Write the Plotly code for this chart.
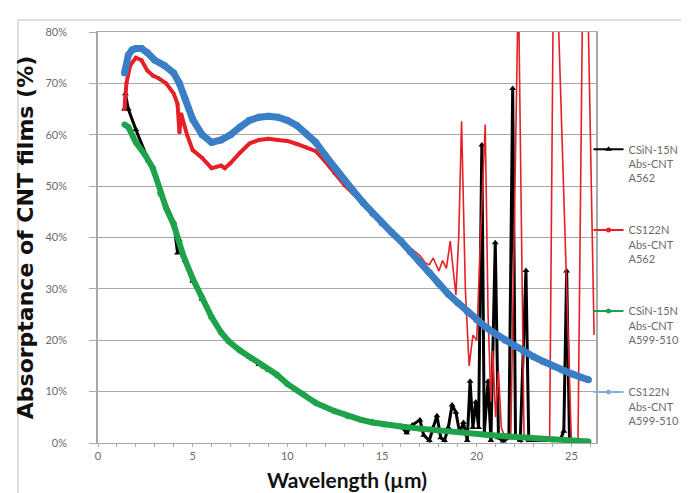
import plotly.graph_objects as go

# ---------------- data (wavelength in µm, absorptance in %) ----------------
black_x = [1.4, 1.45, 1.6, 2.0, 2.66, 3.3, 4.0, 4.2, 4.3, 4.6, 5.0, 5.5, 6.0, 6.5, 7.0, 7.5, 8.0,
           8.5, 9.0, 9.5, 10.0, 10.5, 11.0, 11.5, 12.0, 12.5, 13.0, 13.5, 14.0, 14.5, 15.0, 15.5,
           16.0, 16.3, 16.6, 17.0, 17.2, 17.5, 17.7, 17.9, 18.1, 18.3, 18.5, 18.7, 18.9, 19.1,
           19.3, 19.5, 19.65, 19.8, 19.95, 20.1, 20.27, 20.4, 20.6, 20.75, 20.98, 21.15, 21.4,
           21.7, 21.9, 22.05, 22.3, 22.6, 22.75, 23.5, 24.4, 24.6, 24.75, 24.9, 25.5, 25.9]
black_y = [65, 68, 65, 61, 55, 49, 43, 37, 39.5, 35.5, 31.5, 28, 24.5, 21.8, 19.6, 18, 16.7,
           15.3, 14.2, 13, 11.6, 10.3, 9.2, 8.0, 7.1, 6.3, 5.6, 5.0, 4.5, 4.2, 3.8, 3.5,
           3.2, 2.0, 3.5, 4.5, 1.5, 0.5, 3.0, 5.3, 1.0, 0.5, 3.0, 7.4, 6.0, 2.0,
           4.0, 0.5, 12, 3.0, 8.0, 3.0, 58, 2.0, 12, 0.5, 39, 1.0, 0.4,
           1.0, 69, 1.0, 0.5, 33.6, 0.5, 0.5, 0.5, 2.3, 33.5, 0.5, 0.3, 0.2]

red_x = [1.4, 1.5, 1.7, 2.0, 2.3, 2.6, 2.9, 3.2, 3.6, 4.0, 4.2, 4.3, 4.4, 4.7, 5.0, 5.5, 6.0,
         6.5, 6.7, 7.0, 7.5, 8.0, 8.5, 9.0, 9.5, 10.0, 10.5, 11.0, 11.5, 12.0, 12.5, 13.0, 13.5,
         14.0, 14.5, 15.0, 15.5, 16.0, 16.5, 17.0, 17.3, 17.5, 17.7, 18.0, 18.2, 18.4, 18.6,
         18.9, 19.05, 19.2, 19.4, 19.6, 19.8, 20.0, 20.2, 20.45, 20.6, 20.75, 20.85, 21.0, 21.15,
         21.3, 21.5, 21.8, 22.2, 22.5, 23.0, 23.85, 24.05, 24.25, 25.0, 25.35, 25.6, 25.85, 26.2]
red_y = [65, 70, 73.5, 75, 74.5, 72.5, 71.5, 71, 70, 68, 66, 60.5, 64, 60, 57, 55.5, 53.5,
         54, 53.5, 54.5, 56.5, 58.3, 59, 59.2, 59, 58.8, 58.2, 57.5, 56.8, 54.8, 52.5, 50.3, 48.5,
         46.7, 44.8, 43, 41.2, 39.5, 38, 36.5, 35, 34.7, 36, 33.5, 35.5, 34, 39.3,
         28.8, 40, 62.6, 30, 15, 21, 20, 40, 62, 25, 8, 18, 5, 14,
         3, 1, 1, 90, 1, 0.5, 0.5, 90, 90, 0.5, 0.5, 90, 90, 21, 90]

green_x = [1.4, 1.6, 2.0, 2.5, 2.9, 3.3, 3.6, 4.0, 4.5, 5.0, 5.5, 6.0, 6.5, 6.9, 7.5, 8.1, 8.7,
           9.45, 10.0, 10.8, 11.5, 12.5, 13.2, 13.9, 14.5, 15.1, 16.0, 17.0, 18.0, 19.4, 20.5,
           21.5, 22.8, 24.0, 25.0, 25.9]
green_y = [62, 61.5, 58.5, 56, 53.5, 48.5, 45.7, 42.5, 36.5, 32, 28.2, 24.5, 21.5, 19.8, 18, 16.5,
           15, 13.3, 11.5, 9.6, 7.8, 6.2, 5.2, 4.5, 4.0, 3.6, 3.2, 2.8, 2.4, 2.0, 1.6,
           1.3, 1.0, 0.7, 0.5, 0.3]

blue_x = [1.4, 1.6, 1.8, 2.0, 2.3, 2.6, 3.0, 3.5, 4.0, 4.3, 4.6, 5.0, 5.5, 6.0, 6.5, 7.0, 7.5,
          8.0, 8.5, 9.0, 9.5, 10.0, 10.5, 11.0, 11.5, 12.0, 12.5, 13.0, 13.5, 14.0, 14.5, 15.0,
          15.5, 16.0, 16.5, 17.0, 17.5, 18.0, 18.5, 19.0, 19.5, 20.0, 20.5, 21.0, 21.5, 22.0,
          22.5, 23.0, 23.5, 24.0, 24.5, 25.0, 25.5, 25.9]
blue_y = [72, 75.5, 76.5, 76.8, 76.8, 76, 74.5, 73.5, 72, 70, 67, 63, 60, 58.5, 59, 60, 61.5,
          62.8, 63.4, 63.6, 63.4, 62.8, 61.8, 60.2, 58.5, 56, 53.5, 51.2, 49, 46.8, 44.7, 42.8,
          41, 39.3, 37.2, 35.2, 33.2, 31, 29, 27.3, 25.6, 24, 22.5, 21.2, 20, 18.8,
          17.7, 16.8, 15.9, 15.0, 14.2, 13.5, 12.8, 12.3]

names = ["CSiN-15N<br>Abs-CNT<br>A562", "CS122N<br>Abs-CNT<br>A562",
         "CSiN-15N<br>Abs-CNT<br>A599-510", "CS122N<br>Abs-CNT<br>A599-510"]

x_ticks = [0, 5, 10, 15, 20, 25]
y_ticks = [0, 10, 20, 30, 40, 50, 60, 70, 80]

BLACK = "#000000"
RED = "#e62026"
GREEN = "#1fa34a"
BLUE = "#3a7fc6"
BLUE_LIGHT = "#7fb0de"

fig = go.Figure()

fig.add_trace(go.Scatter(x=black_x, y=black_y, name=names[0], legendgroup="a", showlegend=False,
                         mode="lines+markers", line=dict(color=BLACK, width=3),
                         marker=dict(symbol="triangle-up", size=6, color=BLACK)))

# red: smooth part thick, noisy part thin (same series)
split = 36
fig.add_trace(go.Scatter(x=red_x[:split + 1], y=red_y[:split + 1], name=names[1], legendgroup="b",
                         showlegend=False, mode="lines+markers", line=dict(color=RED, width=4),
                         marker=dict(symbol="circle", size=4, color=RED)))
fig.add_trace(go.Scatter(x=red_x[split:], y=red_y[split:], name=names[1], legendgroup="b",
                         showlegend=False, mode="lines", line=dict(color=RED, width=1.6)))

fig.add_trace(go.Scatter(x=green_x, y=green_y, name=names[2], legendgroup="c", showlegend=False,
                         mode="lines+markers", line=dict(color=GREEN, width=6),
                         marker=dict(symbol="circle", size=6, color=GREEN)))

fig.add_trace(go.Scatter(x=blue_x, y=blue_y, name=names[3], legendgroup="d", showlegend=False,
                         mode="lines+markers", line=dict(color=BLUE, width=7),
                         marker=dict(symbol="circle", size=7, color=BLUE)))

# legend entries (thin line + marker, as in the original legend)
legend_styles = [("a", BLACK, "triangle-up", 6, BLACK),
                 ("b", RED, "circle", 5, RED),
                 ("c", GREEN, "circle", 5, GREEN),
                 ("d", BLUE_LIGHT, "circle", 5, BLUE_LIGHT)]
for name, (grp, col, sym, sz, mcol) in zip(names, legend_styles):
    fig.add_trace(go.Scatter(x=[None], y=[None], name=name, legendgroup=grp,
                             mode="lines+markers", line=dict(color=col, width=2),
                             marker=dict(symbol=sym, size=sz, color=mcol)))

grid = "#a8a8a8"
tickfont = dict(family="Lato, Liberation Sans, sans-serif", size=11, color="#6b6b6b")

fig.update_layout(
    width=689, height=493,
    margin=dict(l=90, r=89, t=24, b=58),
    paper_bgcolor="white", plot_bgcolor="white",
    font=dict(family="Lato, Liberation Sans, sans-serif"),
    showlegend=True,
    legend=dict(x=0.985, xanchor="left", y=0.748, yanchor="top", valign="top",
                font=dict(family="Lato, Liberation Sans, sans-serif", size=11, color="#6b6b6b"),
                tracegroupgap=35, traceorder="grouped", bgcolor="rgba(0,0,0,0)",
                itemwidth=30),
    xaxis=dict(range=[0, 26.3], tickvals=x_ticks, ticktext=[str(v) for v in x_ticks],
               showgrid=False, zeroline=False, showline=True, linecolor=grid, linewidth=1,
               mirror=True, ticks="outside", ticklen=3, tickcolor=grid,
               minor=dict(dtick=1, ticks="outside", ticklen=3, tickcolor=grid),
               tickfont=tickfont, ticklabelstandoff=0,
               title=dict(text="<b>Wavelength (µm)</b>", standoff=12,
                          font=dict(family="Lato, sans-serif", size=21, color="#111111"))),
    yaxis=dict(range=[0, 80], tickvals=y_ticks, ticktext=[f"{v}%" for v in y_ticks],
               showgrid=True, gridcolor=grid, gridwidth=1, zeroline=False,
               showline=True, linecolor=grid, linewidth=1.5, mirror=True,
               ticks="outside", ticklen=7, tickcolor=grid,
               tickfont=tickfont, ticklabelstandoff=20,
               title=dict(text="<b>Absorptance of CNT films (%)</b>", standoff=6,
                          font=dict(family="DejaVu Sans, sans-serif", size=22, color="#111111"))),
    shapes=[dict(type="rect", xref="paper", yref="paper",
                 x0=-82 / 510, x1=600 / 510, y0=-100 / 411, y1=(435 - 12) / 411,
                 line=dict(color="#d4d4d4", width=1.5), fillcolor="rgba(0,0,0,0)", layer="below")],
)

fig.write_html("out.html")
